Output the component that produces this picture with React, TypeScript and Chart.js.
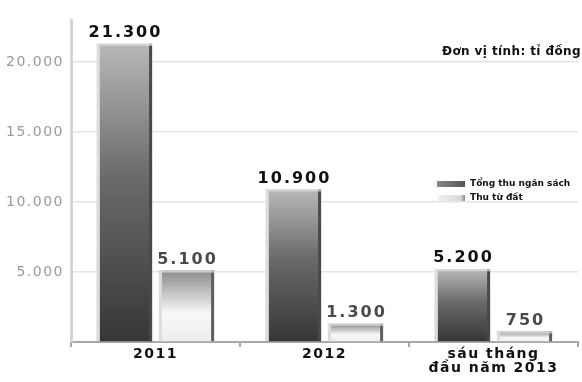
import React, { useEffect, useRef } from "react";
import { Chart, registerables } from "chart.js";

Chart.register(...registerables);

const categories: (string | string[])[] = ["2011", "2012", ["sáu tháng", "đầu năm 2013"]];
const seriesNames = ["Tổng thu ngân sách", "Thu từ đất"];
const totalBudget = [21300, 10900, 5200];
const landRevenue = [5100, 1300, 750];
const yTicks = [5000, 10000, 15000, 20000];
const unitNote = "Đơn vị tính: tỉ đồng";

const fmt = (v: number) => v.toLocaleString("de-DE");

const FONT = "'DejaVu Sans', sans-serif";

function barGradient(ctx: any, stops: [number, string][]) {
  const chart = ctx.chart;
  if (!chart.chartArea || ctx.type !== "data") return stops[1][1];
  const y = chart.scales.y;
  const top = y.getPixelForValue(ctx.raw);
  const base = y.getPixelForValue(0);
  const g = chart.ctx.createLinearGradient(0, top, 0, base);
  stops.forEach(([o, c]) => g.addColorStop(o, c));
  return g;
}

const darkStops: [number, string][] = [
  [0, "#b8b8b8"],
  [0.45, "#6a6a6a"],
  [1, "#363636"],
];
const lightStops: [number, string][] = [
  [0, "#8a8a8a"],
  [0.6, "#f8f8f8"],
  [1, "#ececec"],
];

const decorPlugin = {
  id: "decor",
  beforeDraw(chart: any) {
    chart.ctx.letterSpacing = "1.5px";
  },
  afterDatasetsDraw(chart: any) {
    const ctx = chart.ctx;
    ctx.save();
    ctx.letterSpacing = "0px";
    chart.data.datasets.forEach((ds: any, di: number) => {
      const meta = chart.getDatasetMeta(di);
      meta.data.forEach((bar: any) => {
        const { x, y, base, width } = bar.getProps(["x", "y", "base", "width"], true);
        const l = x - width / 2;
        const r = x + width / 2;
        ctx.fillStyle = "#dcdcdc";
        ctx.fillRect(l, y, 3, base - y);
        ctx.fillStyle = di === 0 ? "#4a4a4a" : "#5e5e5e";
        ctx.fillRect(r - 3, y, 3, base - y);
        ctx.fillStyle = "rgba(220,220,220,0.8)";
        ctx.fillRect(l, y, width, 2);
      });
    });
    ctx.restore();
  },
  afterDraw(chart: any) {
    const ctx = chart.ctx;
    ctx.save();
    // value labels
    ctx.letterSpacing = "2px";
    ctx.font = `bold 16px ${FONT}`;
    ctx.textAlign = "center";
    ctx.textBaseline = "bottom";
    chart.data.datasets.forEach((ds: any, di: number) => {
      const meta = chart.getDatasetMeta(di);
      meta.data.forEach((bar: any, i: number) => {
        const { x, y } = bar.getProps(["x", "y"], true);
        ctx.fillStyle = di === 0 ? "#111111" : "#4a4a4a";
        ctx.fillText(fmt(ds.data[i]), x + 1, y - 3);
      });
    });
    // unit note
    ctx.letterSpacing = "0.4px";
    ctx.font = `bold 12px ${FONT}`;
    ctx.textAlign = "right";
    ctx.textBaseline = "alphabetic";
    ctx.fillStyle = "#111";
    ctx.fillText(unitNote, 581, 55);
    // legend
    const lx = 437;
    const sw = 28;
    const g1 = ctx.createLinearGradient(lx, 0, lx + sw, 0);
    g1.addColorStop(0, "#8a8a8a");
    g1.addColorStop(1, "#555");
    ctx.fillStyle = g1;
    ctx.fillRect(lx, 181, sw, 6);
    const g2 = ctx.createLinearGradient(lx, 0, lx + sw, 0);
    g2.addColorStop(0, "#f2f2f2");
    g2.addColorStop(0.85, "#d8d8d8");
    g2.addColorStop(1, "#888");
    ctx.fillStyle = g2;
    ctx.fillRect(lx, 195, sw, 6);
    ctx.letterSpacing = "0px";
    ctx.font = `bold 9px ${FONT}`;
    ctx.textAlign = "left";
    ctx.textBaseline = "middle";
    ctx.fillStyle = "#111";
    ctx.fillText(seriesNames[0], 470, 184);
    ctx.fillText(seriesNames[1], 470, 198);
    ctx.restore();
  },
};

export default function App() {
  const ref = useRef<HTMLCanvasElement | null>(null);
  useEffect(() => {
    document.body.style.margin = "0";
    const canvas = ref.current!;
    const chart = new Chart(canvas, {
      type: "bar",
      data: {
        labels: categories,
        datasets: [
          {
            label: seriesNames[0],
            data: totalBudget,
            backgroundColor: (c: any) => barGradient(c, darkStops),
            borderWidth: 0,
            categoryPercentage: 0.734,
            barPercentage: 0.89,
          },
          {
            label: seriesNames[1],
            data: landRevenue,
            backgroundColor: (c: any) => barGradient(c, lightStops),
            borderWidth: 0,
            categoryPercentage: 0.734,
            barPercentage: 0.89,
          },
        ],
      },
      options: {
        responsive: false,
        animation: false,
        layout: { padding: { left: 0, right: 4, top: 20, bottom: 0 } },
        plugins: {
          legend: { display: false },
          tooltip: { enabled: false },
        },
        scales: {
          x: {
            grid: {
              display: true,
              drawOnChartArea: false,
              drawTicks: true,
              tickLength: 5,
              color: "#a8a8a8",
              lineWidth: 2,
            },
            border: { display: true, color: "#a8a8a8", width: 2 },
            ticks: {
              color: "#111",
              font: { family: FONT, size: 14, weight: "bold", lineHeight: 1 },
              padding: 0,
              maxRotation: 0,
              autoSkip: false,
            },
            afterFit(scale: any) {
              scale.height = 40;
            },
          },
          y: {
            min: 0,
            max: 23000,
            afterBuildTicks(scale: any) {
              scale.ticks = [0, ...yTicks].map((v) => ({ value: v }));
            },
            grid: {
              color: "#e4e4e4",
              lineWidth: 1.5,
              drawTicks: false,
            },
            border: { display: true, color: "#d4d4d4", width: 3 },
            ticks: {
              color: "#999999",
              font: { family: FONT, size: 14, weight: "normal" },
              padding: 7,
              callback: (v: any) => (v === 0 ? "" : fmt(Number(v))),
            },
            afterFit(scale: any) {
              scale.width = 71;
            },
          },
        },
      },
      plugins: [decorPlugin],
    });
    return () => chart.destroy();
  }, []);
  return (
    <div style={{ width: 582, height: 382 }}>
      <canvas ref={ref} width={582} height={382} style={{ display: "block" }} />
    </div>
  );
}
